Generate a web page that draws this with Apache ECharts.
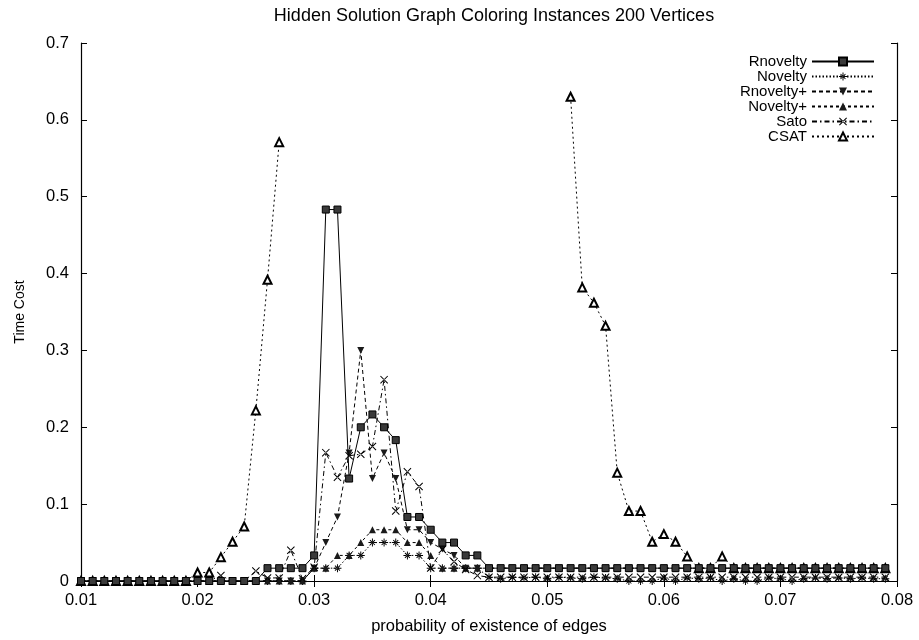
<!DOCTYPE html>
<html>
<head>
<meta charset="utf-8">
<title>Hidden Solution Graph Coloring Instances 200 Vertices</title>
<script src="https://cdn.jsdelivr.net/npm/echarts@6/dist/echarts.min.js"></script>
<style>
  html, body { margin: 0; padding: 0; background: #fff; }
  #chart { width: 919px; height: 640px; }
</style>
</head>
<body>
<div id="chart"></div>
<script>
// Edge probability at which each batch of instances was generated
const edgeProbability = [
  0.010, 0.011, 0.012, 0.013, 0.014, 0.015, 0.016, 0.017, 0.018, 0.019,
  0.020, 0.021, 0.022, 0.023, 0.024, 0.025, 0.026, 0.027, 0.028, 0.029,
  0.030, 0.031, 0.032, 0.033, 0.034, 0.035, 0.036, 0.037, 0.038, 0.039,
  0.040, 0.041, 0.042, 0.043, 0.044, 0.045, 0.046, 0.047, 0.048, 0.049,
  0.050, 0.051, 0.052, 0.053, 0.054, 0.055, 0.056, 0.057, 0.058, 0.059,
  0.060, 0.061, 0.062, 0.063, 0.064, 0.065, 0.066, 0.067, 0.068, 0.069,
  0.070, 0.071, 0.072, 0.073, 0.074, 0.075, 0.076, 0.077, 0.078, 0.079
];

// Average time cost per solver
const rnovelty = [
  0, 0, 0, 0, 0, 0, 0, 0, 0, 0,
  0, 0, 0, 0, 0, 0, 0.0167, 0.0167, 0.0167, 0.0167,
  0.0333, 0.4833, 0.4833, 0.1333, 0.2, 0.2167, 0.2, 0.1833, 0.0833, 0.0833,
  0.0667, 0.05, 0.05, 0.0333, 0.0333, 0.0167, 0.0167, 0.0167, 0.0167, 0.0167,
  0.0167, 0.0167, 0.0167, 0.0167, 0.0167, 0.0167, 0.0167, 0.0167, 0.0167, 0.0167,
  0.0167, 0.0167, 0.0167, 0.0167, 0.0167, 0.0167, 0.0167, 0.0167, 0.0167, 0.0167,
  0.0167, 0.0167, 0.0167, 0.0167, 0.0167, 0.0167, 0.0167, 0.0167, 0.0167, 0.0167
];

const novelty = [
  0, 0, 0, 0, 0, 0, 0, 0, 0, 0,
  0, 0, 0, 0, 0, 0, 0, 0, 0, 0,
  0.0167, 0.0167, 0.0167, 0.0333, 0.0333, 0.05, 0.05, 0.05, 0.0333, 0.0333,
  0.0167, 0.0167, 0.0167, 0.0167, 0.0167, 0.005, 0.003, 0.005, 0.004, 0.005,
  0.003, 0.005, 0.004, 0.003, 0.005, 0.004, 0.003, 0, 0, 0,
  0.004, 0, 0.004, 0.003, 0.004, 0, 0.003, 0, 0, 0.004,
  0.003, 0, 0.003, 0.004, 0.003, 0.004, 0.003, 0.004, 0.003, 0.003
];

const rnoveltyPlus = [
  0, 0, 0, 0, 0, 0, 0, 0, 0, 0,
  0, 0, 0, 0, 0, 0, 0, 0, 0, 0,
  0.0167, 0.05, 0.0833, 0.1667, 0.3, 0.1333, 0.1667, 0.1333, 0.0667, 0.0667,
  0.05, 0.0417, 0.0333, 0.0167, 0.0167, 0.0167, 0.0167, 0.0167, 0.0167, 0.0167,
  0.0167, 0.0167, 0.0167, 0.0167, 0.0167, 0.0167, 0.0167, 0.0167, 0.0167, 0.0167,
  0.0167, 0.0167, 0.0167, 0.0167, 0.0167, 0.0167, 0.0167, 0.0167, 0.0167, 0.0167,
  0.0167, 0.0167, 0.0167, 0.0167, 0.0167, 0.0167, 0.0167, 0.0167, 0.0167, 0.0167
];

const noveltyPlus = [
  0, 0, 0, 0, 0, 0, 0, 0, 0, 0,
  0, 0, 0, 0, 0, 0, 0, 0, 0, 0,
  0.0167, 0.0167, 0.0333, 0.0333, 0.05, 0.0667, 0.0667, 0.0667, 0.05, 0.05,
  0.0333, 0.0167, 0.0167, 0.0167, 0.0167, 0.0167, 0.0167, 0.0167, 0.0167, 0.0167,
  0.0167, 0.0167, 0.0167, 0.0167, 0.0167, 0.0167, 0.0167, 0.0167, 0.0167, 0.0167,
  0.0167, 0.0167, 0.0167, 0.0167, 0.0167, 0.0167, 0.0167, 0.0167, 0.0167, 0.0167,
  0.0167, 0.0167, 0.0167, 0.0167, 0.0167, 0.0167, 0.0167, 0.0167, 0.0167, 0.0167
];

const sato = [
  0, 0, 0, 0, 0, 0, 0, 0, 0, 0,
  0, 0, 0.007, 0, 0, 0.013, 0.004, 0.004, 0.04, 0.003,
  0.018, 0.167, 0.135, 0.163, 0.165, 0.175, 0.262, 0.091, 0.142, 0.123,
  0.017, 0.041, 0.025, 0.015, 0.007, 0.005, 0.005, 0.005, 0.005, 0.005,
  0.005, 0.005, 0.005, 0.005, 0.005, 0.005, 0.005, 0.005, 0.005, 0.005,
  0.005, 0.005, 0.005, 0.005, 0.005, 0.005, 0.005, 0.005, 0.005, 0.005,
  0.005, 0.005, 0.005, 0.005, 0.005, 0.005, 0.005, 0.005, 0.005, 0.005
];

// CSAT gives no result in the middle of the range
const csat = [
  0, 0, 0, 0, 0, 0, 0, 0, 0, 0,
  0.011, 0.011, 0.031, 0.051, 0.071, 0.222, 0.392, 0.571, null, null,
  null, null, null, null, null, null, null, null, null, null,
  null, null, null, null, null, null, null, null, null, null,
  null, null, 0.63, 0.382, 0.362, 0.332, 0.141, 0.091, 0.091, 0.051,
  0.061, 0.051, 0.032, 0.0167, 0.0167, 0.032, 0.0167, 0.0167, 0.0167, 0.0167,
  0.0167, 0.0167, 0.0167, 0.0167, 0.0167, 0.0167, 0.0167, 0.0167, 0.0167, 0.0167
];

const xTicks = { min: 0.01, max: 0.08, step: 0.01 };
const yTicks = { min: 0, max: 0.7, step: 0.1 };

const FONT = 'Liberation Sans, Arial, Helvetica, sans-serif';

// Point glyphs drawn as thin filled outlines so they render the same in the plot and the key
const asteriskPath = 'path://M4.4,0L5.6,0L5.6,10L4.4,10Z' +
  'M0,4.4L10,4.4L10,5.6L0,5.6Z' +
  'M1.5,2.3L2.3,1.5L8.5,7.7L7.7,8.5Z' +
  'M8.5,2.3L7.7,1.5L1.5,7.7L2.3,8.5Z';
const crossPath = 'path://M0,0.9L0.9,0L10,9.1L9.1,10Z' +
  'M10,0.9L9.1,0L0,9.1L0.9,10Z';

function pairs(values) {
  return edgeProbability.map((x, i) => [x, values[i]]);
}

function makeSeries(name, values, symbol, opts) {
  return Object.assign({
    name: name,
    type: 'line',
    data: pairs(values),
    symbol: symbol,
    symbolSize: 7,
    connectNulls: false,
    animation: false,
    z: 3,
    lineStyle: { color: '#000', width: 1, type: 'solid' },
    itemStyle: { color: '#000', borderColor: '#000', borderWidth: 0 },
    emphasis: { disabled: true }
  }, opts);
}

const series = [
  makeSeries('Rnovelty', rnovelty, 'rect', {
    symbolSize: 7,
    z: 4,
    lineStyle: { color: '#000', width: 1, type: 'solid' },
    itemStyle: { color: '#3a3a3a', borderColor: '#000', borderWidth: 1 }
  }),
  makeSeries('Novelty', novelty, asteriskPath, {
    symbolSize: 8,
    lineStyle: { color: '#000', width: 1, type: [1.5, 2] },
    itemStyle: { color: '#000', borderWidth: 0 }
  }),
  makeSeries('Rnovelty+', rnoveltyPlus, 'triangle', {
    symbolSize: 7,
    symbolRotate: 180,
    lineStyle: { color: '#000', width: 1, type: [4, 3] },
    itemStyle: { color: '#1a1a1a', borderWidth: 0 }
  }),
  makeSeries('Novelty+', noveltyPlus, 'triangle', {
    symbolSize: 7,
    lineStyle: { color: '#000', width: 1, type: [3, 3] },
    itemStyle: { color: '#1a1a1a', borderWidth: 0 }
  }),
  makeSeries('Sato', sato, crossPath, {
    symbolSize: 8,
    lineStyle: { color: '#000', width: 1, type: [5, 3, 1.5, 3] },
    itemStyle: { color: '#000', borderWidth: 0 }
  }),
  makeSeries('CSAT', csat, 'emptyTriangle', {
    symbolSize: 8,
    z: 2,
    lineStyle: { color: '#000', width: 1, type: [2, 3] },
    itemStyle: { color: '#000', borderColor: '#000', borderWidth: 0.9 }
  })
];

const axisLine = { show: true, lineStyle: { color: '#000', width: 1.2 } };
const tickInside = { show: true, inside: true, length: 6, lineStyle: { color: '#000', width: 1 } };
const tickLabel = { color: '#000', fontFamily: FONT, fontSize: 16.5 };

const chart = echarts.init(document.getElementById('chart'), null, { renderer: 'canvas' });

chart.setOption({
  backgroundColor: '#fff',
  animation: false,
  title: {
    text: 'Hidden Solution Graph Coloring Instances 200 Vertices',
    left: 489,
    textAlign: 'center',
    top: 2,
    textStyle: { color: '#000', fontFamily: FONT, fontSize: 18, fontWeight: 'normal' }
  },
  legend: {
    orient: 'vertical',
    align: 'right',
    right: 44,
    top: 54,
    padding: 0,
    itemWidth: 62,
    itemHeight: 10,
    itemGap: 0,
    selectedMode: false,
    textStyle: { color: '#000', fontFamily: FONT, fontSize: 15, lineHeight: 14.2 },
    data: ['Rnovelty', 'Novelty', 'Rnovelty+', 'Novelty+', 'Sato', 'CSAT']
  },
  grid: { left: 81, right: 22, top: 43, bottom: 58, containLabel: false },
  xAxis: [
    {
      type: 'value',
      min: xTicks.min, max: xTicks.max, interval: xTicks.step,
      position: 'bottom',
      name: 'probability of existence of edges',
      nameLocation: 'middle',
      nameGap: 37,
      nameTextStyle: { color: '#000', fontFamily: FONT, fontSize: 16.5 },
      axisLine: axisLine,
      axisTick: tickInside,
      axisLabel: Object.assign({ margin: 11, formatter: v => v.toFixed(2) }, tickLabel),
      splitLine: { show: false }
    },
    {
      type: 'value',
      min: xTicks.min, max: xTicks.max, interval: xTicks.step,
      position: 'top',
      axisLine: axisLine,
      axisTick: tickInside,
      axisLabel: { show: false },
      splitLine: { show: false }
    }
  ],
  yAxis: [
    {
      type: 'value',
      min: yTicks.min, max: yTicks.max, interval: yTicks.step,
      position: 'left',
      name: 'Time Cost',
      nameLocation: 'middle',
      nameGap: 54,
      nameRotate: 90,
      nameTextStyle: { color: '#000', fontFamily: FONT, fontSize: 14 },
      axisLine: axisLine,
      axisTick: tickInside,
      axisLabel: Object.assign({ margin: 12, formatter: v => (v === 0 ? '0' : v.toFixed(1)) }, tickLabel),
      splitLine: { show: false }
    },
    {
      type: 'value',
      min: yTicks.min, max: yTicks.max, interval: yTicks.step,
      position: 'right',
      axisLine: axisLine,
      axisTick: tickInside,
      axisLabel: { show: false },
      splitLine: { show: false }
    }
  ],
  series: series
});
</script>
</body>
</html>
